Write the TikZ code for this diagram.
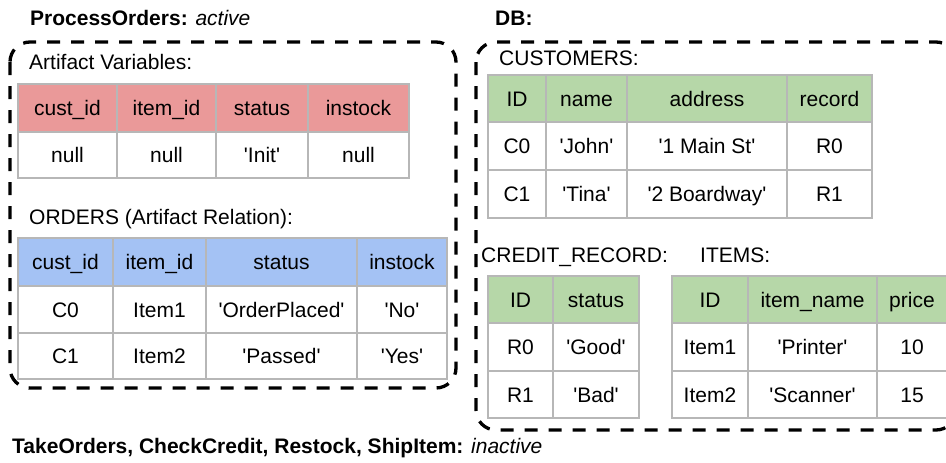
\documentclass[tikz,border=0pt]{standalone}
\usepackage{fontspec}
\newfontfamily\arialish{Liberation Sans}
\definecolor{hdrred}{HTML}{EA9999}
\definecolor{hdrblue}{HTML}{A4C2F4}
\definecolor{hdrgreen}{HTML}{B6D7A8}
\definecolor{gridgray}{HTML}{B7B7B7}

% one row of a table: name prefix, top y, bottom y, fill, list of x0/x1/text
\newcommand\datarow[5]{%
  \foreach \xa/\xb/\txt [count=\k] in {#5} {%
    \node[cellbox, fill=#4, minimum width={\xb-\xa}, minimum height={#3-#2}]
      (#1-\k) at ({(\xa+\xb)/2},{(#2+#3)/2}) {\txt};
  }%
}

\begin{document}
\begin{tikzpicture}[x=1pt, y=-1pt,
  every node/.style={font=\arialish\fontsize{21}{25}\selectfont, text height=15pt, text depth=0pt},
  cellbox/.style={draw=gridgray, line width=1.3pt, inner sep=0pt, anchor=center},
  lbl/.style={anchor=west, inner sep=0pt},
  groupbox/.style={draw=black, line width=3.3pt, dash pattern=on 13pt off 11pt, rounded corners=20pt}]
\useasboundingbox (0,0) rectangle (946,463);

% group frames
\draw[groupbox] (10,42) rectangle (456,388);
\draw[groupbox] (476,42) rectangle (956,430);

% headings
\node[lbl] (po) at (30,17.5) {\bfseries ProcessOrders: \mdseries\itshape active};
\node[lbl] (db) at (495,17.5) {\bfseries DB:};
\node[lbl] (inact) at (12,445.5) {\bfseries TakeOrders, CheckCredit, Restock, ShipItem: \mdseries\itshape inactive};

% section labels
\node[lbl] (artlbl) at (29,62) {Artifact Variables:};
\node[lbl] (ordlbl) at (29,217) {ORDERS (Artifact Relation):};
\node[lbl] (custlbl) at (499,57.5) {CUSTOMERS:};
\node[lbl] (credlbl) at (481,255) {CREDIT\_RECORD:};
\node[lbl] (itemlbl) at (700,255) {ITEMS:};

% artifact variables
\datarow{arth}{84}{132}{hdrred}{18/117/cust\_id, 117/216/item\_id, 216/308/status, 308/409/instock}
\datarow{artr}{132}{178}{white}{18/117/null, 117/216/null, 216/308/'Init', 308/409/null}

% ORDERS
\datarow{ordh}{238}{286}{hdrblue}{18/113/cust\_id, 113/206/item\_id, 206/357/status, 357/447/instock}
\datarow{ordr1}{286}{333}{white}{18/113/C0, 113/206/Item1, 206/357/'OrderPlaced', 357/447/'No'}
\datarow{ordr2}{333}{379}{white}{18/113/C1, 113/206/Item2, 206/357/'Passed', 357/447/'Yes'}

% CUSTOMERS
\datarow{custh}{75}{122}{hdrgreen}{488/546/ID, 546/627/name, 627/787/address, 787/872/record}
\datarow{custr1}{122}{170}{white}{488/546/C0, 546/627/'John', 627/787/'1 Main St', 787/872/R0}
\datarow{custr2}{170}{218}{white}{488/546/C1, 546/627/'Tina', 627/787/'2 Boardway', 787/872/R1}

% CREDIT_RECORD
\datarow{credh}{276}{323}{hdrgreen}{488/553/ID, 553/639/status}
\datarow{credr1}{323}{371}{white}{488/553/R0, 553/639/'Good'}
\datarow{credr2}{371}{418}{white}{488/553/R1, 553/639/'Bad'}

% ITEMS
\datarow{itemh}{276}{323}{hdrgreen}{672/748/ID, 748/877/item\_name, 877/947/price}
\datarow{itemr1}{323}{371}{white}{672/748/Item1, 748/877/'Printer', 877/947/10}
\datarow{itemr2}{371}{418}{white}{672/748/Item2, 748/877/'Scanner', 877/947/15}
\end{tikzpicture}
\end{document}
